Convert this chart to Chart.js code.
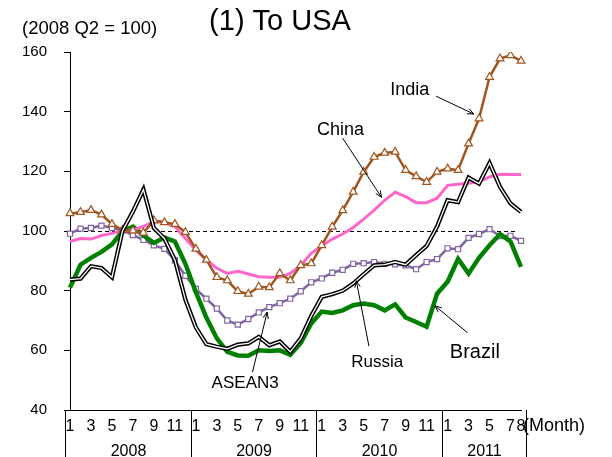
<!DOCTYPE html>
<html lang="en">
<head>
    <meta charset="UTF-8">
    <title>(1) To USA</title>
    <script src="https://cdn.jsdelivr.net/npm/chart.js"></script>
    <style>
        body { margin: 0; background: #fff; }
        canvas { display: block; }
    </style>
</head>
<body>
    <canvas id="myChart" width="612" height="457"></canvas>

    <script>
        // months per year on the x axis (Jan 2008 - Aug 2011)
        const years = ['2008', '2009', '2010', '2011'];
        const monthsPerYear = [12, 12, 12, 8];
        const yTicks = [40, 60, 80, 100, 120, 140, 160];

        // index values, 2008 Q2 = 100
        const india = [105.9, 106.3, 107.0, 105.5, 102.3, 100.3, 100.1, 99.4, 103.5, 102.9, 102.3, 99.6,
            94.0, 90.3, 84.5, 83.4, 79.8, 78.9, 81.3, 81.1, 85.8, 83.4, 88.5, 89.1,
            95.2, 101.4, 106.9, 113.1, 119.8, 124.8, 126.2, 126.5, 120.4, 118.3, 116.4, 119.8,
            120.9, 120.4, 129.3, 137.7, 151.6, 157.8, 158.9, 157.0];
        const china = [96.5, 97.5, 97.3, 98.5, 99.2, 100.0, 100.3, 101.5, 103.2, 103.0, 101.5, 97.5,
            93.6, 90.3, 87.5, 85.8, 86.5, 85.6, 84.7, 84.5, 84.5, 85.8, 88.5, 92.5,
            95.0, 97.3, 99.0, 101.2, 104.0, 107.0, 110.3, 113.0, 111.5, 109.5, 109.5, 111.0,
            115.3, 115.7, 116.0, 116.5, 118.1, 119.0, 118.9, 118.9];
        const russia = [83.7, 84.0, 88.2, 87.6, 84.5, 100.0, 106.5, 113.9, 101.0, 97.5, 90.3, 77.0,
            67.7, 62.1, 61.2, 60.5, 61.9, 62.3, 64.5, 61.7, 63.0, 59.5, 64.0, 71.5,
            77.9, 78.8, 80.0, 82.4, 85.5, 88.5, 88.7, 89.6, 88.7, 91.9, 95.0, 101.5,
            110.3, 109.7, 117.9, 115.9, 122.8, 114.8, 109.2, 106.4];
        const brazil = [81.0, 88.7, 91.0, 93.0, 95.5, 100.0, 101.5, 98.5, 96.0, 97.8, 96.5, 89.0,
            79.5, 71.0, 64.0, 59.5, 58.3, 58.2, 60.0, 59.8, 60.0, 58.5, 62.5, 69.0,
            73.0, 72.5, 73.4, 75.1, 75.7, 75.1, 73.4, 75.4, 71.0, 69.5, 67.9, 79.0,
            83.0, 90.6, 85.7, 91.0, 95.2, 98.9, 96.5, 88.0];
        const asean3 = [99.1, 100.8, 101.0, 101.8, 101.0, 100.2, 98.6, 97.0, 95.2, 94.0, 90.2, 85.0,
            80.6, 77.3, 74.0, 70.0, 68.6, 70.5, 72.7, 74.5, 75.8, 77.3, 79.8, 82.8,
            84.1, 86.0, 87.0, 89.0, 89.2, 89.6, 89.0, 88.8, 88.5, 87.2, 89.6, 90.6,
            94.2, 93.9, 97.7, 99.0, 100.6, 98.3, 98.4, 96.7];

        // callout labels: text position and arrow (from -> to) in data units (month index, value)
        const callouts = [
            { text: 'India', size: 18, at: [32.4, 147.3], from: [34.9, 145.2], to: [38.5, 139.2] },
            { text: 'China', size: 18, at: [25.8, 134.0], from: [26.0, 131.1], to: [29.7, 111.3] },
            { text: 'Russia', size: 17, at: [29.3, 55.9], from: [28.5, 61.4], to: [27.3, 83.3] },
            { text: 'Brazil', size: 20, at: [38.6, 59.4], from: [37.9, 65.9], to: [34.8, 74.9] },
            { text: 'ASEAN3', size: 17, at: [16.7, 49.0], from: [17.4, 52.7], to: [18.8, 72.8] }
        ];

        const months = [];
        monthsPerYear.forEach(n => { for (let m = 1; m <= n; m++) months.push(m); });
        const labels = months.map((m, i) => years[Math.floor(i / 12)] + '-' + m);

        const FONT = '"Liberation Sans", Arial, sans-serif';
        Chart.defaults.font.family = FONT;
        Chart.defaults.color = '#000';

        const arrow = (ctx, x1, y1, x2, y2) => {
            const a = Math.atan2(y2 - y1, x2 - x1);
            const h = 7;
            ctx.beginPath();
            ctx.moveTo(x1, y1);
            ctx.lineTo(x2, y2);
            ctx.moveTo(x2 - h * Math.cos(a - 0.4), y2 - h * Math.sin(a - 0.4));
            ctx.lineTo(x2, y2);
            ctx.lineTo(x2 - h * Math.cos(a + 0.4), y2 - h * Math.sin(a + 0.4));
            ctx.stroke();
        };

        const decorations = {
            id: 'decorations',
            beforeDatasetsDraw(chart) {
                const { ctx, chartArea, scales: { y } } = chart;
                const yy = Math.round(y.getPixelForValue(100)) + 0.5;
                ctx.save();
                ctx.strokeStyle = '#000';
                ctx.lineWidth = 1;
                ctx.setLineDash([4, 3]);
                ctx.beginPath();
                ctx.moveTo(chartArea.left, yy);
                ctx.lineTo(chartArea.right - 4, yy);
                ctx.stroke();
                ctx.restore();
            },
            afterDraw(chart) {
                const { ctx, chartArea, scales: { x, y } } = chart;
                const half = (x.getPixelForValue(1) - x.getPixelForValue(0)) / 2;
                ctx.save();
                ctx.fillStyle = '#000';
                ctx.strokeStyle = '#000';
                ctx.lineWidth = 1;

                // year separators below the axis and year names
                let start = 0;
                ctx.font = '16px ' + FONT;
                ctx.textAlign = 'center';
                ctx.textBaseline = 'middle';
                monthsPerYear.forEach((n, k) => {
                    const x0 = Math.round(x.getPixelForValue(start) - half) + 0.5;
                    const x1 = Math.round(x.getPixelForValue(start + n - 1) + half) + 0.5;
                    ctx.beginPath();
                    ctx.moveTo(x0, chartArea.bottom);
                    ctx.lineTo(x0, chart.height);
                    if (k === monthsPerYear.length - 1) {
                        ctx.moveTo(x1, chartArea.bottom);
                        ctx.lineTo(x1, chart.height);
                    }
                    ctx.stroke();
                    ctx.fillText(years[k], (x0 + x1) / 2, chartArea.bottom + 42);
                    start += n;
                });

                ctx.textAlign = 'left';
                ctx.font = '18px ' + FONT;
                ctx.fillText('(Month)', chartArea.right + 2, chartArea.bottom + 16);

                // titles
                ctx.font = '18.5px ' + FONT;
                ctx.fillText('(2008 Q2 = 100)', 22, 29);
                ctx.font = '29px ' + FONT;
                ctx.textAlign = 'center';
                ctx.fillText('(1) To USA', 280, 22);

                // callouts
                callouts.forEach(c => {
                    ctx.font = c.size + 'px ' + FONT;
                    ctx.fillText(c.text, x.getPixelForValue(c.at[0]), y.getPixelForValue(c.at[1]));
                    arrow(ctx, x.getPixelForValue(c.from[0]), y.getPixelForValue(c.from[1]),
                        x.getPixelForValue(c.to[0]), y.getPixelForValue(c.to[1]));
                });
                ctx.restore();
            }
        };

        const series = (label, data, color, width, extra) => Object.assign({
            label: label,
            data: data,
            borderColor: color,
            backgroundColor: color,
            borderWidth: width,
            pointRadius: 0,
            tension: 0
        }, extra || {});

        new Chart(document.getElementById('myChart'), {
            type: 'line',
            data: {
                labels: labels,
                datasets: [
                    series('Russia', russia, '#ffffff', 1.3, { order: 0 }),
                    series('Russia outline', russia, '#000000', 4.3, { order: 1 }),
                    series('India', india, '#A0541E', 2.5, {
                        order: 2, pointStyle: 'triangle', pointRadius: 4.5,
                        pointBackgroundColor: '#fff', pointBorderColor: '#A0541E', pointBorderWidth: 1.2
                    }),
                    series('China', china, '#FF66CC', 3, { order: 3 }),
                    series('Brazil', brazil, '#008000', 4.5, { order: 4 }),
                    series('ASEAN3', asean3, '#8064A2', 2.5, {
                        order: 5, pointStyle: 'rect', pointRadius: 3.6,
                        pointBackgroundColor: '#fff', pointBorderColor: '#8064A2', pointBorderWidth: 1.2
                    })
                ]
            },
            options: {
                responsive: false,
                animation: false,
                layout: { padding: { top: 52, right: 91, left: 0, bottom: 0 } },
                plugins: {
                    legend: { display: false },
                    tooltip: { enabled: false }
                },
                scales: {
                    x: {
                        grid: { display: false, drawTicks: false },
                        border: { display: true, color: '#000', width: 1 },
                        ticks: {
                            autoSkip: false,
                            maxRotation: 0,
                            padding: 7,
                            font: { size: 16 },
                            callback: (value, index) => {
                                const m = months[index];
                                return (m % 2 === 1 || index === months.length - 1) ? String(m) : '';
                            }
                        },
                        afterFit: (scale) => { scale.height = 47; }
                    },
                    y: {
                        min: 40,
                        max: 160,
                        afterBuildTicks: (scale) => { scale.ticks = yTicks.map(v => ({ value: v })); },
                        grid: { drawOnChartArea: false, drawTicks: true, tickLength: 6, color: '#000' },
                        border: { display: true, color: '#000', width: 1 },
                        ticks: { padding: 17, font: { size: 15 } },
                        afterFit: (scale) => { scale.width = 70; }
                    }
                }
            },
            plugins: [decorations]
        });
    </script>
</body>
</html>
